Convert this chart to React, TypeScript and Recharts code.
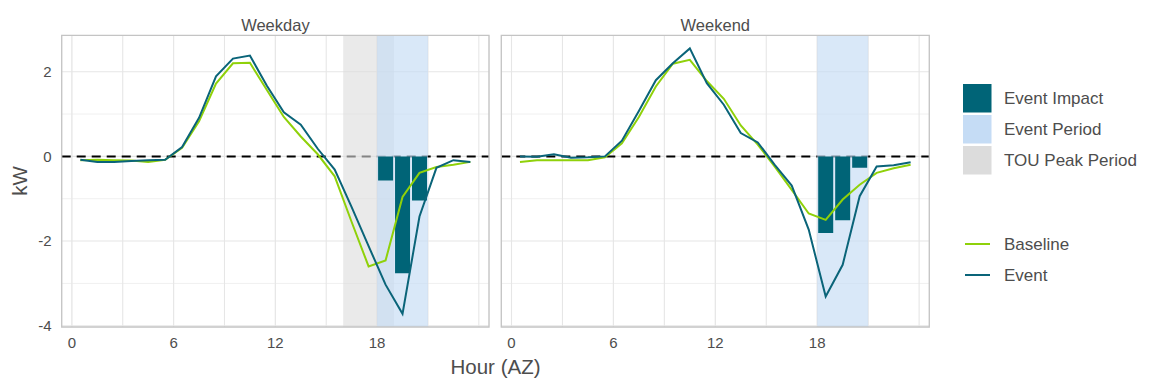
import React from 'react';
import {ComposedChart, Bar, Line, XAxis, YAxis, CartesianGrid, ReferenceArea, ReferenceLine} from 'recharts';

// hour-of-day midpoints
const hours = [0.5, 1.5, 2.5, 3.5, 4.5, 5.5, 6.5, 7.5, 8.5, 9.5, 10.5, 11.5,
    12.5, 13.5, 14.5, 15.5, 16.5, 17.5, 18.5, 19.5, 20.5, 21.5, 22.5, 23.5];

const weekdayBaseline = [-0.09, -0.08, -0.09, -0.1, -0.13, -0.08, 0.2, 0.83, 1.72, 2.2, 2.21, 1.57,
    0.93, 0.47, 0.05, -0.47, -1.55, -2.6, -2.46, -0.96, -0.39, -0.25, -0.2, -0.13];
const weekdayEvent = [-0.08, -0.13, -0.13, -0.11, -0.09, -0.08, 0.22, 0.91, 1.89, 2.31, 2.38, 1.67,
    1.04, 0.75, 0.18, -0.31, -1.2, -2.12, -3.03, -3.72, -1.42, -0.27, -0.09, -0.13];

const weekendBaseline = [-0.13, -0.09, -0.09, -0.09, -0.09, -0.02, 0.31, 0.93, 1.65, 2.19, 2.28, 1.78,
    1.36, 0.73, 0.28, -0.24, -0.79, -1.35, -1.5, -1.02, -0.67, -0.39, -0.28, -0.2];
const weekendEvent = [0, -0.01, 0.05, -0.03, -0.02, 0, 0.37, 1.07, 1.8, 2.2, 2.55, 1.73,
    1.22, 0.55, 0.33, -0.2, -0.69, -1.73, -3.31, -2.56, -0.94, -0.24, -0.21, -0.14];

// event impact bars (event minus baseline) during the event hours
const impactHours = [18.5, 19.5, 20.5];
const weekdayImpact = [-0.57, -2.76, -1.04];
const weekendImpact = [-1.81, -1.51, -0.27];

const eventPeriod = [18, 21];
const touPeriod = [16, 19];

const xTicks = [0, 6, 12, 18];
const xGrid = [0, 3, 6, 9, 12, 15, 18, 21, 24];
const yTicks = [-4, -2, 0, 2];
const yMinor = [-3, -1, 1];

const X_DOMAIN: [number, number] = [-0.6, 24.6];
const Y_DOMAIN: [number, number] = [-4.03, 2.86];

const TEAL = '#0a6479';
const BAR = '#006477';
const GREEN = '#8fd10a';
const BLUE = '#c5dcf5';
const GREY = '#dcdcdc';
const TEXT = '#4d4d4d';
const FONT = '"Liberation Sans", Arial, sans-serif';

const buildRows = (baseline: number[], event: number[], impact: number[]) =>
    hours.map((h, i) => {
        const k = impactHours.indexOf(h);
        return {hour: h, baseline: baseline[i], event: event[i], impact: k >= 0 ? impact[k] : null};
    });

const weekdayRows = buildRows(weekdayBaseline, weekdayEvent, weekdayImpact);
const weekendRows = buildRows(weekendBaseline, weekendEvent, weekendImpact);

const tickStyle = {fontSize: 15, fill: TEXT, fontFamily: FONT};

const Panel = (props: { rows: any[], showY: boolean, showTou: boolean, width: number, margin: any }) => {
    const {rows, showY, showTou, width, margin} = props;
    return (
        <ComposedChart width={width} height={388} data={rows} margin={margin}>
            <CartesianGrid horizontalValues={yMinor} verticalValues={[]} stroke="#f0f0f0" strokeWidth={1}/>
            <CartesianGrid horizontalValues={yTicks} verticalValues={xGrid} stroke="#e6e6e6" strokeWidth={1.1}/>
            <XAxis dataKey="hour" type="number" domain={X_DOMAIN} ticks={xTicks} allowDataOverflow
                   axisLine={false} tickLine={false} tickSize={0} tickMargin={10} height={30}
                   tick={tickStyle} interval={0}/>
            <YAxis type="number" domain={Y_DOMAIN} ticks={yTicks} allowDataOverflow hide={!showY}
                   axisLine={false} tickLine={false} tickSize={0} tickMargin={10} width={50}
                   tick={tickStyle} interval={0}/>
            {/* zero line sits beneath the shaded periods */}
            <ReferenceLine y={0} stroke="#000" strokeWidth={2} strokeDasharray="9 6" zIndex={50}/>
            {showTou && <ReferenceArea x1={touPeriod[0]} x2={touPeriod[1]} fill={GREY} fillOpacity={0.6}
                                       stroke="none" zIndex={100}/>}
            <ReferenceArea x1={eventPeriod[0]} x2={eventPeriod[1]} fill={BLUE} fillOpacity={0.65} stroke="none"
                           zIndex={110}/>
            <Bar dataKey="impact" fill={BAR} barSize={15} isAnimationActive={false}/>
            <Line dataKey="baseline" stroke={GREEN} strokeWidth={2} dot={false} isAnimationActive={false}/>
            <Line dataKey="event" stroke={TEAL} strokeWidth={2} dot={false} isAnimationActive={false}/>
            <ReferenceArea x1={X_DOMAIN[0]} x2={X_DOMAIN[1]} y1={Y_DOMAIN[0]} y2={Y_DOMAIN[1]}
                           fill="none" stroke="#c4c4c4" strokeWidth={1.3} zIndex={450}/>
        </ComposedChart>
    );
};

const legendBoxes = [
    {label: 'Event Impact', color: BAR},
    {label: 'Event Period', color: BLUE},
    {label: 'TOU Peak Period', color: GREY},
];
const legendLines = [
    {label: 'Baseline', color: GREEN},
    {label: 'Event', color: TEAL},
];

const App = () => {
    return (
        <div style={{position: 'absolute', left: 0, top: 0, width: 1151, height: 388, background: '#fff'}}>
            <div style={{position: 'absolute', left: 0, top: 0}}>
                <Panel rows={weekdayRows} showY showTou width={495}
                       margin={{top: 35.3, right: 6, bottom: 31, left: 11.7}}/>
            </div>
            <div style={{position: 'absolute', left: 495, top: 0}}>
                <Panel rows={weekendRows} showY={false} showTou={false} width={440}
                       margin={{top: 35.3, right: 5.7, bottom: 31, left: 6.3}}/>
            </div>
            <svg width={1151} height={388} style={{position: 'absolute', left: 0, top: 0, pointerEvents: 'none'}}
                 fontFamily={FONT}>
                <text x={275.4} y={30.5} textAnchor="middle" fontSize={16.5} fill={TEXT}>Weekday</text>
                <text x={715.3} y={30.5} textAnchor="middle" fontSize={16.5} fill={TEXT}>Weekend</text>
                <text x={495.5} y={374} textAnchor="middle" fontSize={20.5} fill={TEXT}>Hour (AZ)</text>
                <text transform="translate(27,181) rotate(-90)" textAnchor="middle" fontSize={20.5}
                      fill={TEXT}>kW</text>
                {legendBoxes.map((d, i) => (
                    <g key={d.label}>
                        <rect x={963} y={84 + i * 31} width={28.5} height={28.5} fill={d.color}/>
                        <text x={1004} y={98.5 + i * 31} dy="0.35em" fontSize={17} fill={TEXT}>{d.label}</text>
                    </g>
                ))}
                {legendLines.map((d, i) => (
                    <g key={d.label}>
                        <line x1={965} x2={990} y1={244 + i * 31} y2={244 + i * 31} stroke={d.color}
                              strokeWidth={2}/>
                        <text x={1004} y={244 + i * 31} dy="0.35em" fontSize={17} fill={TEXT}>{d.label}</text>
                    </g>
                ))}
            </svg>
        </div>
    );
};

export default App;
